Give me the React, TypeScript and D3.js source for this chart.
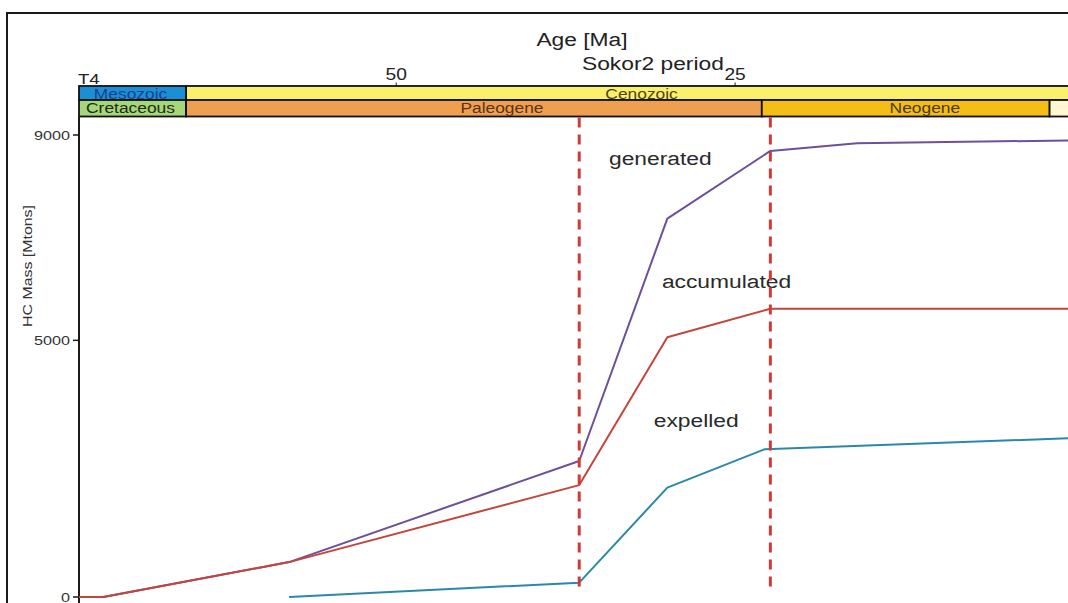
import React from 'react';
import * as d3 from 'd3';

const W = 1068;
const H = 603;

// Top (age) axis
const ageDomain = [73.4, 0];
const ageTicks = [50, 25, 0];
const ageTickLabels = ['50', '25', '0'];
const ageStartLabel = 'T4';

// Left (mass) axis
const massDomain = [0, 9000];
const massTicks = [0, 5000, 9000];
const massTickLabels = ['0', '5000', '9000'];

// Geologic time scale
const eras = ['Mesozoic', 'Cenozoic'];
const eraStart = [73.4, 65.5];
const eraEnd = [65.5, 0];
const eraColors = ['#1b8fd5', '#fbf06c'];
const eraTextColors = ['#1f3f8e', '#4f4414'];
const eraLabelAge = [69.6, 31.9];

const periods = ['Cretaceous', 'Paleogene', 'Neogene', ''];
const periodStart = [73.4, 65.5, 23.03, 1.8];
const periodEnd = [65.5, 23.03, 1.8, 0];
const periodColors = ['#a6d67a', '#ef9f50', '#f4be16', '#fff8d0'];
const periodTextColors = ['#1f2a14', '#5a3414', '#4a3a0c', '#333'];
const periodLabelAge = [69.6, 42.2, 11.0, 0.9];

// Series
const generatedAges = [73.4, 71.6, 57.9, 36.5, 30.0, 22.4, 16.0, 0];
const generated = [0, 0, 680, 2650, 7370, 8690, 8840, 8895];
const accumulatedAges = [73.4, 71.6, 57.9, 36.5, 30.0, 22.4, 0];
const accumulated = [0, 0, 680, 2180, 5060, 5615, 5615];
const expelledAges = [57.9, 36.5, 30.0, 22.8, 0];
const expelled = [0, 280, 2130, 2880, 3096];

const seriesNames = ['generated', 'accumulated', 'expelled'];
const seriesColors = ['#6e4f99', '#c4453b', '#2a88aa'];
const seriesLabelAge = [34.3, 30.4, 31.0];
const seriesLabelMass = [8416, 6019, 3312];

// Event lines (Sokor2 period)
const eventAges = [36.5, 22.4];

const title1 = 'Age [Ma]';
const title2 = 'Sokor2 period';
const yTitle = 'HC Mass [Mtons]';

const SX = 1.2; // horizontal stretch of the reference's lettering
const FONT = '"Liberation Sans", Arial, Helvetica, sans-serif';

function SText({ x, y, anchor = 'start', size, fill = '#333', children }: any) {
  return (
    <text
      transform={`translate(${x},${y}) scale(${SX},1)`}
      textAnchor={anchor}
      fontSize={size}
      fill={fill}
      fontFamily={FONT}
    >
      {children}
    </text>
  );
}

export default function App() {
  const x = d3.scaleLinear().domain(ageDomain).range([79, 1074]);
  const y = d3.scaleLinear().domain(massDomain).range([597, 135]);

  const eraTop = 86;
  const eraBottom = 100;
  const perBottom = 116.5;

  const line = d3
    .line<[number, number]>()
    .x((d) => x(d[0]))
    .y((d) => y(d[1]));

  const series = [
    { ages: generatedAges, vals: generated },
    { ages: accumulatedAges, vals: accumulated },
    { ages: expelledAges, vals: expelled },
  ];

  return (
    <svg
      width={W}
      height={H}
      style={{ position: 'absolute', left: 0, top: 0, background: '#fff' }}
    >
      <rect x={0} y={0} width={W} height={H} fill="#fff" />
      {/* outer frame */}
      <rect x={7} y={13} width={1200} height={800} fill="none" stroke="#1a1a1a" strokeWidth={2} />

      {/* titles */}
      <SText x={582} y={46} anchor="middle" size={19} fill="#222">{title1}</SText>
      <SText x={582} y={70} anchor="start" size={19} fill="#222">{title2}</SText>

      {/* age axis ticks */}
      <SText x={x(ageDomain[0]) - 1} y={84} anchor="start" size={15.5} fill="#222">{ageStartLabel}</SText>
      {ageTicks.map((t, i) => (
        <g key={'at' + i}>
          <line x1={x(t)} x2={x(t)} y1={82.5} y2={eraTop} stroke="#222" strokeWidth={1} />
          <SText x={x(t)} y={80} anchor="middle" size={16} fill="#222">{ageTickLabels[i]}</SText>
        </g>
      ))}

      {/* eras */}
      {eras.map((e, i) => (
        <rect
          key={'er' + i}
          x={x(eraStart[i])}
          y={eraTop}
          width={x(eraEnd[i]) - x(eraStart[i])}
          height={eraBottom - eraTop}
          fill={eraColors[i]}
          stroke="#111"
          strokeWidth={1.8}
        />
      ))}
      {periods.map((p, i) => (
        <rect
          key={'pr' + i}
          x={x(periodStart[i])}
          y={eraBottom}
          width={x(periodEnd[i]) - x(periodStart[i])}
          height={perBottom - eraBottom}
          fill={periodColors[i]}
          stroke="#111"
          strokeWidth={1.8}
        />
      ))}
      {eras.map((e, i) => (
        <SText key={'et' + i} x={x(eraLabelAge[i])} y={99} anchor="middle" size={14.5} fill={eraTextColors[i]}>
          {e}
        </SText>
      ))}
      {periods.map((p, i) =>
        p ? (
          <SText key={'pt' + i} x={x(periodLabelAge[i])} y={113} anchor="middle" size={14.5} fill={periodTextColors[i]}>
            {p}
          </SText>
        ) : null
      )}

      {/* y axis */}
      <line x1={79} x2={79} y1={perBottom} y2={H + 5} stroke="#1a1a1a" strokeWidth={2} />
      {massTicks.map((t, i) => (
        <g key={'mt' + i}>
          <line x1={73} x2={79} y1={y(t)} y2={y(t)} stroke="#1a1a1a" strokeWidth={1.5} />
          <SText x={70} y={y(t) + 4.7} anchor="end" size={13.5} fill="#333">{massTickLabels[i]}</SText>
        </g>
      ))}
      <text
        transform={`translate(32,266) rotate(-90)`}
        textAnchor="middle"
        fontSize={13}
        fill="#333"
        fontFamily={FONT}
        textLength={122}
        lengthAdjust="spacingAndGlyphs"
      >
        {yTitle}
      </text>

      {/* series */}
      {series.map((s, i) => (
        <path
          key={'s' + i}
          d={line(s.ages.map((a, j) => [a, s.vals[j]] as [number, number])) || ''}
          fill="none"
          stroke={seriesColors[i]}
          strokeWidth={2}
          strokeLinejoin="round"
        />
      ))}
      {seriesNames.map((n, i) => (
        <SText key={'sl' + i} x={x(seriesLabelAge[i])} y={y(seriesLabelMass[i])} anchor="start" size={19} fill="#2a2a2a">
          {n}
        </SText>
      ))}

      {/* event lines */}
      {eventAges.map((a, i) => (
        <line
          key={'ev' + i}
          x1={x(a)}
          x2={x(a)}
          y1={perBottom + 1}
          y2={y(0) - 10}
          stroke="#d03b34"
          strokeWidth={3}
          strokeDasharray="10 7"
        />
      ))}
    </svg>
  );
}
